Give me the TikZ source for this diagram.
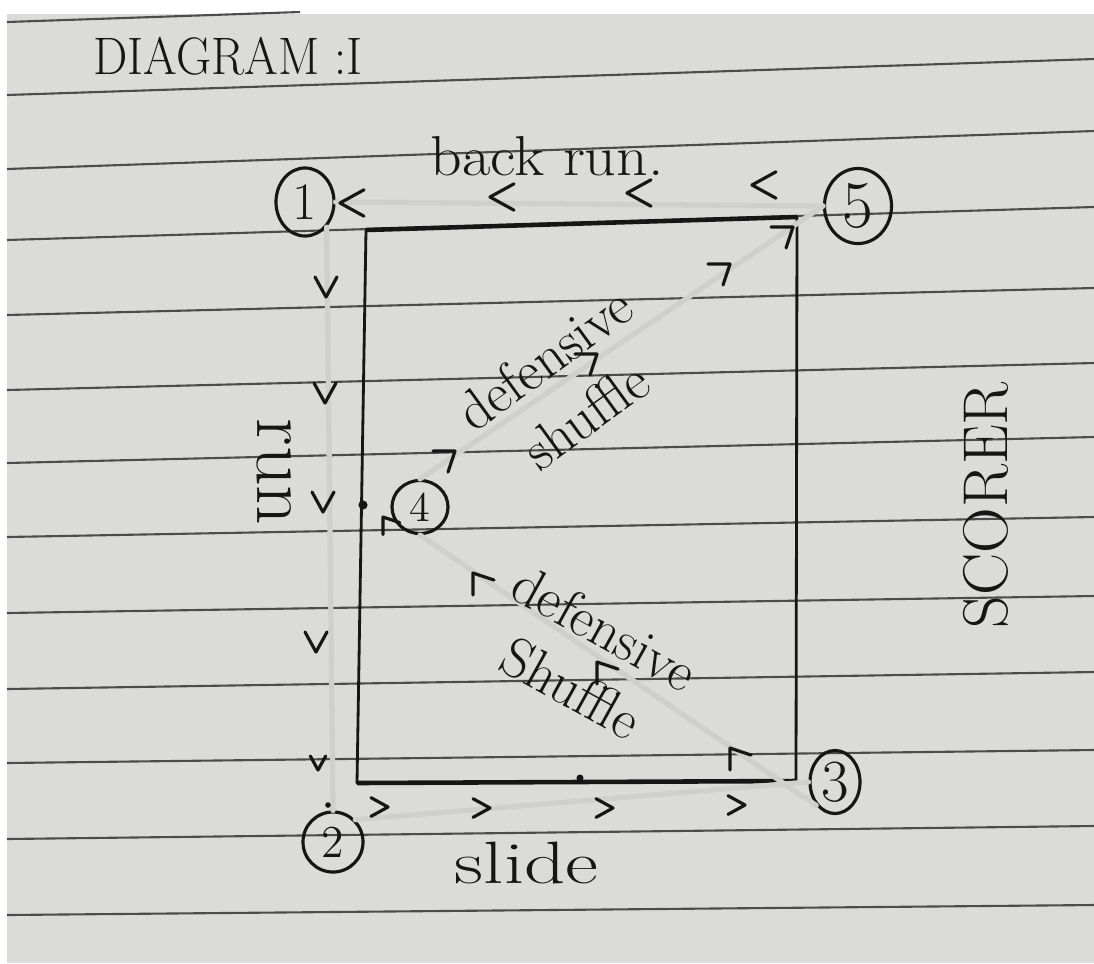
\documentclass[tikz,border=0pt]{standalone}
\usepackage{fontspec}
\usetikzlibrary{shapes.geometric}
\definecolor{paper}{RGB}{219,219,217}
\definecolor{ink}{RGB}{22,22,22}
\definecolor{pencil}{RGB}{207,207,205}
\tikzset{
  rule/.style={black!70, line width=0.6pt},
  field/.style={ink, line width=0.8pt, line join=round},
  trace/.style={pencil, line width=1.5pt, line cap=round},
  spot/.style={draw=ink, ellipse, line width=0.9pt, inner sep=0pt, text=ink},
  lbl/.style={text=ink, inner sep=0pt},
  chev/.pic={\draw[ink, line width=0.9pt, line cap=round, line join=round] (-20,-11) -- (0,0) -- (-20,11);},
  hook/.pic={\draw[ink, line width=0.9pt, line cap=round, line join=round] (-22,0) -- (0,0) -- (-7,21);},
}

\begin{document}
\begin{tikzpicture}[x=0.01cm, y=-0.01cm]
\useasboundingbox (0,0) rectangle (1094,963);
\fill[white] (0,0) rectangle (1094,963);
\fill[paper] (7,14) rectangle (1094,963);
% ruled paper
\draw[rule] (7,22) -- (300,12);
\foreach \a/\b in {95/59, 169/131, 240/207, 315/288, 390/363, 463/437, 537/517, 613/596, 689/672, 763/750, 839/826, 915/905}
  \draw[rule] (7,\a) -- (1094,\b);

% field
\coordinate (tl) at (366,230);
\coordinate (tr) at (797,217);
\coordinate (br) at (796,781);
\coordinate (bl) at (357,783);
\draw[field] (tl) -- (tr) -- (br) -- (bl) -- cycle;
\draw[field, line width=1.3pt] (tl) -- (tr) (bl) -- (br);

% positions
\node[spot, minimum width=5.8mm, minimum height=6.8mm, font=\fontsize{15}{15}\selectfont] (p1) at (305,202) {1};
\node[spot, minimum width=6mm, minimum height=6mm, font=\fontsize{13}{13}\selectfont] (p2) at (333,842) {2};
\node[spot, minimum width=5mm, minimum height=6.3mm, font=\fontsize{17}{17}\selectfont] (p3) at (835,782) {3};
\node[spot, minimum width=5.6mm, minimum height=5.3mm, font=\fontsize{12}{12}\selectfont] (p4) at (420,507) {4};
\node[spot, minimum width=6.7mm, minimum height=7.5mm, font=\fontsize{19}{19}\selectfont] (p5) at (858,206) {5};

% pencil traces of the moves
\draw[trace] (p5.west) -- (p1.east);
\draw[trace] (p1.south east) -- (p2.north);
\draw[trace] (p2.north east) -- (p3.west);
\draw[trace] (p3.south west) -- (p4.south);
\draw[trace] (p4.north) -- (p5.west);

% direction marks
\foreach \x/\y in {340/203, 490/197, 627/193, 752/185}
  \pic[rotate=180, scale=1.2] at (\x,\y) {chev};
\foreach \x/\y in {326/297, 325/403, 323/512, 316/652}
  \pic[rotate=-90] at (\x,\y) {chev};
\pic[rotate=-90, scale=0.7] at (318,770) {chev};
\foreach \x/\y in {388/807, 490/808, 613/808, 745/805}
  \pic[scale=0.85] at (\x,\y) {chev};
\foreach \x/\y in {455/451, 597/354, 730/264, 793/227}
  \pic at (\x,\y) {hook};
\foreach \x/\y in {473/573, 597/662, 730/748}
  \pic[rotate=90] at (\x,\y) {hook};
\pic[rotate=90, scale=0.8] at (383,517) {hook};

\fill[ink] (363,505) circle[radius=1.3pt];
\fill[ink] (580,778) circle[radius=1pt];
\fill[ink] (328,805) circle[radius=0.8pt];

% labels
\node[lbl, anchor=base west, font=\fontsize{15}{17}\selectfont, xscale=0.92] (title) at (93,74) {DIAGRAM :I};
\node[lbl, anchor=base west, xscale=1.1, font=\fontsize{16}{18}\selectfont] (backrun) at (430,175) {back run.};
\node[lbl, rotate=-90, font=\fontsize{22}{24}\selectfont] (runlbl) at (274,472) {run};
\node[lbl, anchor=base west, xscale=1.35, font=\fontsize{17}{20}\selectfont] (slidelbl) at (454,883) {slide};
\node[lbl, rotate=90, font=\fontsize{18}{20}\selectfont] (scorer) at (986,505) {SCORER};
\node[lbl, rotate=36, align=center, font=\fontsize{16}{20}\selectfont] (shuffleA) at (565,387) {defensive\\shuffle};
\node[lbl, rotate=-29, align=center, font=\fontsize{16}{19.5}\selectfont] (shuffleB) at (588,658) {defensive\\Shuffle};
\end{tikzpicture}
\end{document}
